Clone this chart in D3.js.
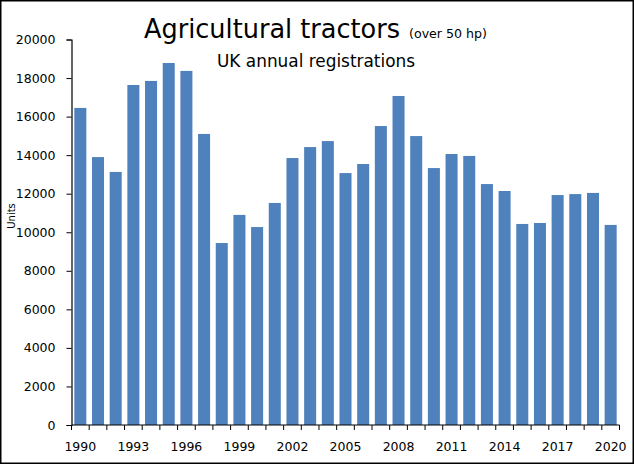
<!DOCTYPE html>
<html>
<head>
<meta charset="utf-8">
<script src="https://cdn.jsdelivr.net/npm/d3@7"></script>
<style>
  body { margin: 0; background: #fff; }
  text { font-family: "DejaVu Sans", Verdana, sans-serif; }
</style>
</head>
<body>
<svg width="634" height="464"></svg>
<script>
// Data
const years = d3.range(1990, 2021);
const registrations = [
    16450, 13900, 13130, 17640, 17850, 18780, 18370, 15100, 9440, 10900,
    10270, 11520, 13850, 14420, 14730, 13070, 13540, 15510, 17070, 14990,
    13330, 14060, 13960, 12500, 12140, 10430, 10480, 11930, 11980, 12040,
    10380
];
const yTicks = [0, 2000, 4000, 6000, 8000, 10000, 12000, 14000, 16000, 18000, 20000];
const labelYears = [1990, 1993, 1996, 1999, 2002, 2005, 2008, 2011, 2014, 2017, 2020];

const svg = d3.select("svg");
const width = +svg.attr("width");
const height = +svg.attr("height");

const plotLeft = 71.5, plotRight = 619.5, plotTop = 39.5, plotBottom = 425;

const x = d3.scaleBand()
    .domain(years)
    .range([plotLeft, plotRight])
    .paddingInner(0.32)
    .paddingOuter(0.16);

const y = d3.scaleLinear()
    .domain([0, 20000])
    .range([plotBottom, plotTop]);

// border
svg.append("rect")
    .attr("x", 0.75).attr("y", 0.75)
    .attr("width", width - 1.5).attr("height", height - 1.5)
    .attr("fill", "white")
    .attr("stroke", "black")
    .attr("stroke-width", 1.5);

// bars
svg.append("g")
    .selectAll("rect")
    .data(years)
    .enter()
    .append("rect")
    .attr("x", (d) => x(d))
    .attr("width", x.bandwidth())
    .attr("y", (d, i) => y(registrations[i]))
    .attr("height", (d, i) => plotBottom - y(registrations[i]))
    .attr("fill", "#4F81BD");

// y axis
const yAxis = svg.append("g")
    .attr("transform", "translate(" + plotLeft + ",0)")
    .call(d3.axisLeft(y).tickValues(yTicks).tickSize(5).tickPadding(11).tickFormat(d3.format("d")));
yAxis.select(".domain").attr("stroke-width", 1.2);
yAxis.selectAll("text").attr("font-size", "12.5px").attr("fill", "#000");

// x axis: ticks at category boundaries
const step = x.step();
const boundaries = d3.range(years.length + 1).map((i) => plotLeft + i * step);
const xg = svg.append("g");
xg.append("line")
    .attr("x1", plotLeft).attr("x2", plotRight)
    .attr("y1", plotBottom).attr("y2", plotBottom)
    .attr("stroke", "black").attr("stroke-width", 1.2);
xg.selectAll(".tick")
    .data(boundaries)
    .enter()
    .append("line")
    .attr("x1", (d) => d).attr("x2", (d) => d)
    .attr("y1", plotBottom).attr("y2", plotBottom + 5)
    .attr("stroke", "black");
xg.selectAll(".lbl")
    .data(labelYears)
    .enter()
    .append("text")
    .attr("x", (d) => x(d) + x.bandwidth() / 2)
    .attr("y", 451)
    .attr("text-anchor", "middle")
    .attr("font-size", "12.5px")
    .text((d) => d);

// axis title
svg.append("text")
    .attr("transform", "translate(15,216) rotate(-90)")
    .attr("text-anchor", "middle")
    .attr("font-size", "10px")
    .text("Units");

// titles
svg.append("text")
    .attr("x", 144).attr("y", 38)
    .attr("font-family", "'Open Sans', sans-serif")
    .attr("font-size", "26px")
    .attr("textLength", 256)
    .attr("lengthAdjust", "spacingAndGlyphs")
    .text("Agricultural tractors");
svg.append("text")
    .attr("x", 409).attr("y", 38)
    .attr("font-family", "'Open Sans', sans-serif")
    .attr("font-size", "12.5px")
    .attr("textLength", 78)
    .attr("lengthAdjust", "spacingAndGlyphs")
    .text("(over 50 hp)");
svg.append("text")
    .attr("x", 217).attr("y", 67)
    .attr("font-family", "'Open Sans', sans-serif")
    .attr("font-size", "17.5px")
    .attr("textLength", 198)
    .attr("lengthAdjust", "spacingAndGlyphs")
    .text("UK annual registrations");
</script>
</body>
</html>
